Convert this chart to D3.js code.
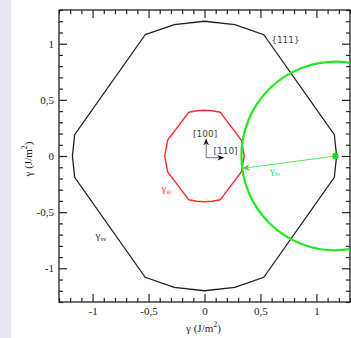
<!DOCTYPE html>
<html>
<head>
<meta charset="utf-8">
<script src="https://cdn.jsdelivr.net/npm/d3@7"></script>
<style>
  body { margin: 0; background: #fff; }
  svg { display: block; }
</style>
</head>
<body>
<div id="chart"></div>
<script>
// gamma_sv (solid-vapour) contour, closed polygon with arc points
const svX = [-0.53, -0.27, 0, 0.27, 0.53, 1.16, 1.18, 1.16, 0.53, 0.27, 0, -0.27, -0.53, -1.16, -1.18, -1.16];
const svY = [1.08, 1.17, 1.2, 1.17, 1.08, 0.19, 0, -0.19, -1.08, -1.17, -1.2, -1.17, -1.08, -0.19, 0, 0.19];
// gamma_sl (solid-liquid) contour
const slX = [-0.14, -0.07, 0, 0.07, 0.14, 0.33, 0.355, 0.33, 0.14, 0.07, 0, -0.07, -0.14, -0.33, -0.355, -0.33];
const slY = [0.39, 0.403, 0.408, 0.403, 0.39, 0.14, 0, -0.14, -0.39, -0.403, -0.408, -0.403, -0.39, -0.14, 0, 0.14];
// gamma_lv circle
const lvCenter = [1.17, 0];
const lvRadius = 0.84;
const lvArrowEnd = [0.34, -0.11];
// crystal directions
const dirOrigin = [0.015, -0.015];
const dirNames = ["[100]", "[110]"];
const dirEnds = [[0.015, 0.15], [0.17, -0.015]];

const majorTicks = [-1, -0.5, 0, 0.5, 1];
const domain = [-1.3, 1.3];

const width = 351, height = 338;
const margin = { left: 59, top: 10, right: 1, bottom: 36 };

const svg = d3.select("#chart").append("svg")
  .attr("width", width)
  .attr("height", height);

// light strip on the left side
svg.append("rect").attr("x", 0).attr("y", 0).attr("width", 11).attr("height", height)
  .attr("fill", "#e4e7f1");

const x = d3.scaleLinear().domain(domain).range([margin.left, width - margin.right]);
const y = d3.scaleLinear().domain(domain).range([height - margin.bottom, margin.top]);

const minorTicks = d3.range(-13, 14).map(d => d / 10).filter(d => Math.abs(d * 2 - Math.round(d * 2)) > 1e-6);
const fmt = d => String(d).replace(".", ",");

const serif = "'Liberation Serif', 'Times New Roman', serif";
const sans = "'DejaVu Sans', sans-serif";

function styleAxis(g) {
  g.select(".domain").remove();
  g.selectAll(".tick line").attr("stroke", "#222").attr("stroke-width", 1.2);
  g.selectAll(".tick text").attr("font-family", serif).attr("font-size", 11).attr("fill", "#222");
}

const x0 = margin.left, x1 = width - margin.right, y0 = height - margin.bottom, y1 = margin.top;

// bottom / left: major ticks with labels, minor ticks
svg.append("g").attr("transform", `translate(0,${y0})`)
  .call(d3.axisBottom(x).tickValues(majorTicks).tickSize(-8).tickPadding(5).tickFormat(fmt)).call(styleAxis);
svg.append("g").attr("transform", `translate(0,${y0})`)
  .call(d3.axisBottom(x).tickValues(minorTicks).tickSize(-4).tickFormat("")).call(styleAxis);
svg.append("g").attr("transform", `translate(${x0},0)`)
  .call(d3.axisLeft(y).tickValues(majorTicks).tickSize(-8).tickPadding(5).tickFormat(fmt)).call(styleAxis);
svg.append("g").attr("transform", `translate(${x0},0)`)
  .call(d3.axisLeft(y).tickValues(minorTicks).tickSize(-4).tickFormat("")).call(styleAxis);
// top / right mirror ticks
svg.append("g").attr("transform", `translate(0,${y1})`)
  .call(d3.axisTop(x).tickValues(majorTicks).tickSize(-8).tickFormat("")).call(styleAxis);
svg.append("g").attr("transform", `translate(0,${y1})`)
  .call(d3.axisTop(x).tickValues(minorTicks).tickSize(-4).tickFormat("")).call(styleAxis);
svg.append("g").attr("transform", `translate(${x1},0)`)
  .call(d3.axisRight(y).tickValues(majorTicks).tickSize(-8).tickFormat("")).call(styleAxis);
svg.append("g").attr("transform", `translate(${x1},0)`)
  .call(d3.axisRight(y).tickValues(minorTicks).tickSize(-4).tickFormat("")).call(styleAxis);

svg.append("rect")
  .attr("x", x0).attr("y", y1).attr("width", x1 - x0).attr("height", y0 - y1)
  .attr("fill", "none").attr("stroke", "#222").attr("stroke-width", 1.3);

svg.append("clipPath").attr("id", "plot-clip").append("rect")
  .attr("x", x0).attr("y", y1).attr("width", x1 - x0).attr("height", y0 - y1);

const plot = svg.append("g").attr("clip-path", "url(#plot-clip)");

const line = d3.line().x(d => x(d[0])).y(d => y(d[1])).curve(d3.curveLinearClosed);

plot.append("path")
  .attr("d", line(svX.map((v, i) => [v, svY[i]])))
  .attr("fill", "none").attr("stroke", "#222").attr("stroke-width", 1.3);

plot.append("path")
  .attr("d", line(slX.map((v, i) => [v, slY[i]])))
  .attr("fill", "none").attr("stroke", "#ff2a2a").attr("stroke-width", 1.4);

plot.append("ellipse")
  .attr("cx", x(lvCenter[0])).attr("cy", y(lvCenter[1]))
  .attr("rx", x(lvCenter[0] + lvRadius) - x(lvCenter[0]))
  .attr("ry", y(lvCenter[1]) - y(lvCenter[1] + lvRadius))
  .attr("fill", "none").attr("stroke", "#22e822").attr("stroke-width", 2.2);

// markers
const defs = svg.append("defs");
defs.append("marker").attr("id", "head-dark")
  .attr("viewBox", "0 0 10 10").attr("refX", 9).attr("refY", 5)
  .attr("markerUnits", "userSpaceOnUse").attr("markerWidth", 7).attr("markerHeight", 7)
  .attr("orient", "auto")
  .append("path").attr("d", "M0,1 L10,5 L0,9 L3,5 Z").attr("fill", "#111");
defs.append("marker").attr("id", "head-green")
  .attr("viewBox", "0 0 10 10").attr("refX", 9).attr("refY", 5)
  .attr("markerUnits", "userSpaceOnUse").attr("markerWidth", 8).attr("markerHeight", 8)
  .attr("orient", "auto")
  .append("path").attr("d", "M0,1 L10,5 L0,9 L3,5 Z").attr("fill", "#33dd33");

plot.append("line")
  .attr("x1", x(lvCenter[0])).attr("y1", y(lvCenter[1]))
  .attr("x2", x(lvArrowEnd[0])).attr("y2", y(lvArrowEnd[1]))
  .attr("stroke", "#55ee55").attr("stroke-width", 1)
  .attr("marker-end", "url(#head-green)");
plot.append("circle")
  .attr("cx", x(lvCenter[0])).attr("cy", y(lvCenter[1])).attr("r", 3.2)
  .attr("fill", "#11dd11");

dirEnds.forEach(e => {
  svg.append("line")
    .attr("x1", x(dirOrigin[0])).attr("y1", y(dirOrigin[1]))
    .attr("x2", x(e[0])).attr("y2", y(e[1]))
    .attr("stroke", "#777").attr("stroke-width", 1)
    .attr("marker-end", "url(#head-dark)");
});

// direction labels
svg.append("text").attr("x", x(dirOrigin[0]) - 1).attr("y", y(dirEnds[0][1]) - 2.5)
  .attr("text-anchor", "middle").attr("font-family", sans).attr("font-size", 9).attr("fill", "#444")
  .text(dirNames[0]);
svg.append("text").attr("x", x(dirEnds[1][0]) + 2).attr("y", y(dirEnds[1][1]) - 3.5)
  .attr("text-anchor", "middle").attr("font-family", sans).attr("font-size", 9).attr("fill", "#444")
  .text(dirNames[1]);
svg.append("text").attr("x", 285.5).attr("y", 42.5)
  .attr("text-anchor", "middle").attr("font-family", sans).attr("font-size", 9).attr("fill", "#444")
  .text("{111}");

function gammaLabel(px, py, sub, color) {
  const t = svg.append("text").attr("x", px).attr("y", py)
    .attr("font-family", serif).attr("font-size", 11).attr("fill", color);
  t.append("tspan").text("γ");
  t.append("tspan").attr("font-size", 7).attr("dy", 2).text(sub);
}
gammaLabel(95.5, 238.5, "sv", "#333");
gammaLabel(161.5, 192, "sl", "#ff3333");
gammaLabel(270, 173.5, "lv", "#33dd33");

// axis titles
const xt = svg.append("text").attr("x", (x0 + x1) / 2 - 1).attr("y", 332)
  .attr("text-anchor", "middle").attr("font-family", serif).attr("font-size", 11).attr("fill", "#222");
xt.append("tspan").text("γ (J/m");
xt.append("tspan").attr("font-size", 8).attr("dy", -5).text("2");
xt.append("tspan").attr("dy", 5).text(")");

const yt = svg.append("text").attr("transform", `translate(32,${y(0) + 3}) rotate(-90)`)
  .attr("text-anchor", "middle").attr("font-family", serif).attr("font-size", 11).attr("fill", "#222");
yt.append("tspan").text("γ (J/m");
yt.append("tspan").attr("font-size", 8).attr("dy", -5).text("2");
yt.append("tspan").attr("dy", 5).text(")");
</script>
</body>
</html>
